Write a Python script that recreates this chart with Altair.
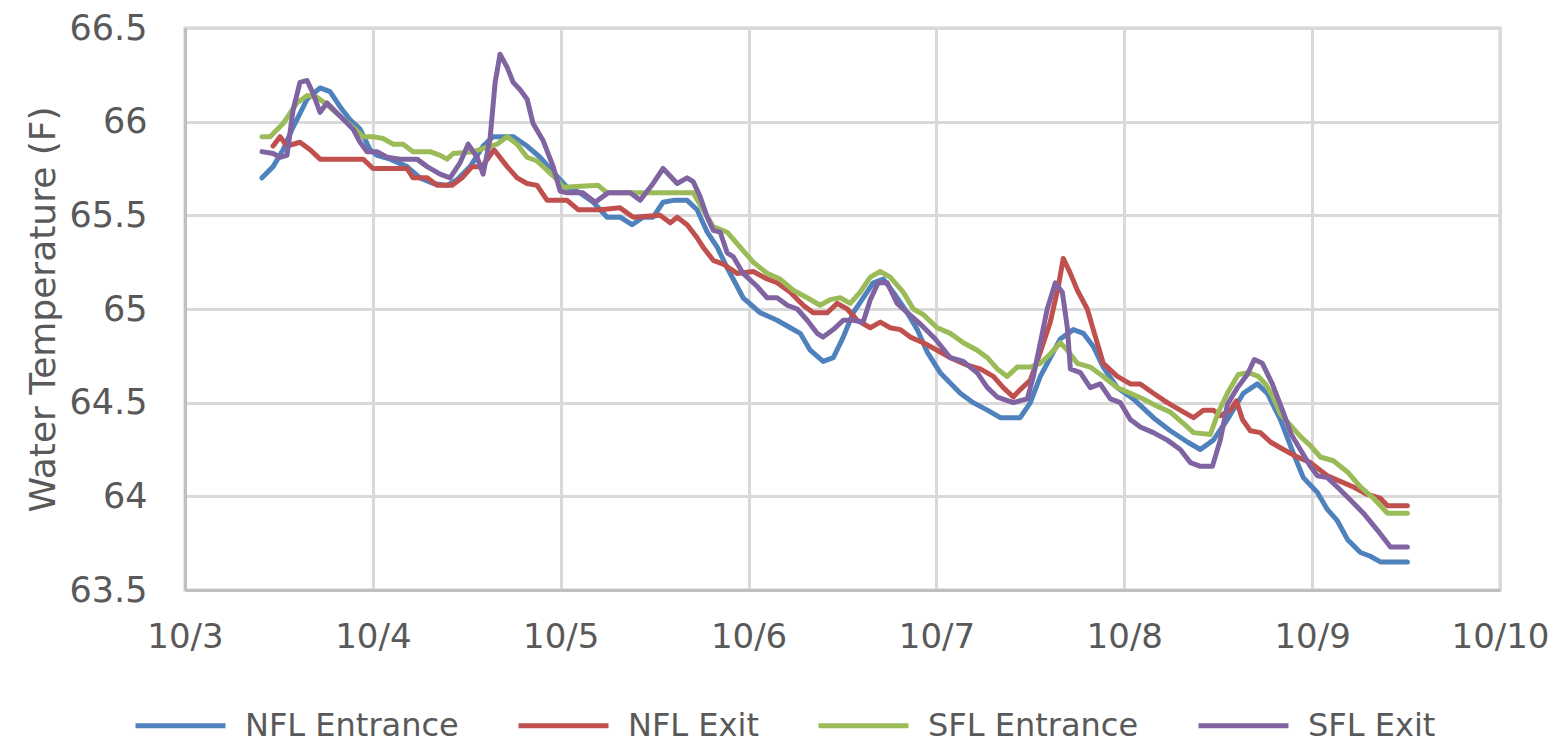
import altair as alt
import pandas as pd

SERIES = ["NFL Entrance", "NFL Exit", "SFL Entrance", "SFL Exit"]
COLORS = ["#4F81BD", "#C0504D", "#9BBB59", "#8064A2"]

NFL_ENT_DAY = [3.410, 3.469, 3.522, 3.575, 3.650, 3.719, 3.772, 3.825, 3.879, 3.932, 3.985, 4.022, 4.092, 4.182,
               4.251, 4.321, 4.395, 4.448, 4.518, 4.587, 4.640, 4.747, 4.821, 4.890, 4.960, 5.034, 5.103, 5.173,
               5.247, 5.316, 5.380, 5.439, 5.492, 5.545, 5.599, 5.673, 5.726, 5.780, 5.833, 5.886, 5.918, 5.971,
               6.062, 6.152, 6.222, 6.275, 6.328, 6.397, 6.451, 6.504, 6.557, 6.610, 6.664, 6.717, 6.770, 6.845,
               6.898, 6.951, 7.020, 7.127, 7.196, 7.271, 7.340, 7.446, 7.500, 7.553, 7.606, 7.659, 7.729, 7.782,
               7.835, 7.888, 7.963, 8.048, 8.155, 8.245, 8.336, 8.405, 8.474, 8.549, 8.634, 8.708, 8.762, 8.831,
               8.900, 8.953, 9.028, 9.081, 9.134, 9.188, 9.257, 9.310, 9.363, 9.507]
NFL_ENT_TEMP = [65.70, 65.76, 65.85, 65.97, 66.12, 66.18, 66.16, 66.08, 66.01, 65.96, 65.85, 65.82, 65.80, 65.76,
                65.70, 65.67, 65.66, 65.69, 65.76, 65.87, 65.92, 65.92, 65.87, 65.81, 65.73, 65.65, 65.62, 65.57,
                65.49, 65.49, 65.45, 65.49, 65.49, 65.57, 65.58, 65.58, 65.53, 65.41, 65.33, 65.22, 65.16, 65.06,
                64.98, 64.94, 64.90, 64.87, 64.78, 64.72, 64.74, 64.85, 64.98, 65.06, 65.14, 65.16, 65.09, 64.98,
                64.89, 64.77, 64.66, 64.55, 64.50, 64.46, 64.42, 64.42, 64.50, 64.64, 64.74, 64.84, 64.89, 64.87,
                64.80, 64.69, 64.58, 64.52, 64.42, 64.35, 64.29, 64.25, 64.30, 64.41, 64.55, 64.60, 64.55, 64.41,
                64.23, 64.10, 64.02, 63.93, 63.87, 63.77, 63.70, 63.68, 63.65, 63.65]

NFL_EXIT_DAY = [3.469, 3.506, 3.543, 3.612, 3.666, 3.719, 3.948, 4.001, 4.182, 4.214, 4.289, 4.342, 4.422, 4.475,
                4.528, 4.582, 4.645, 4.715, 4.768, 4.821, 4.874, 4.928, 5.034, 5.093, 5.210, 5.316, 5.386, 5.529,
                5.583, 5.620, 5.673, 5.726, 5.758, 5.812, 5.865, 5.939, 6.025, 6.099, 6.152, 6.222, 6.291, 6.344,
                6.419, 6.472, 6.525, 6.578, 6.648, 6.701, 6.754, 6.807, 6.861, 6.930, 7.004, 7.074, 7.164, 7.233,
                7.303, 7.356, 7.409, 7.446, 7.500, 7.553, 7.606, 7.649, 7.675, 7.713, 7.750, 7.803, 7.835, 7.888,
                7.963, 8.032, 8.085, 8.155, 8.229, 8.298, 8.368, 8.421, 8.474, 8.511, 8.565, 8.597, 8.629, 8.671,
                8.724, 8.778, 8.847, 8.921, 8.991, 9.081, 9.150, 9.220, 9.294, 9.363, 9.401, 9.507]
NFL_EXIT_TEMP = [65.87, 65.92, 65.87, 65.89, 65.85, 65.80, 65.80, 65.75, 65.75, 65.70, 65.70, 65.66, 65.66, 65.70,
                 65.76, 65.76, 65.85, 65.76, 65.70, 65.67, 65.66, 65.58, 65.58, 65.53, 65.53, 65.54, 65.49, 65.50,
                 65.46, 65.49, 65.45, 65.38, 65.33, 65.26, 65.24, 65.19, 65.20, 65.16, 65.14, 65.09, 65.02, 64.98,
                 64.98, 65.03, 65.00, 64.94, 64.90, 64.93, 64.90, 64.89, 64.85, 64.82, 64.78, 64.74, 64.70, 64.68,
                 64.64, 64.58, 64.53, 64.57, 64.62, 64.77, 64.93, 65.12, 65.27, 65.19, 65.10, 65.00, 64.89, 64.71,
                 64.64, 64.60, 64.60, 64.55, 64.50, 64.46, 64.42, 64.46, 64.46, 64.43, 64.46, 64.51, 64.41, 64.35,
                 64.34, 64.29, 64.25, 64.21, 64.18, 64.11, 64.08, 64.05, 64.01, 63.99, 63.95, 63.95]

SFL_ENT_DAY = [3.410, 3.453, 3.522, 3.596, 3.650, 3.703, 3.756, 3.825, 3.895, 3.948, 4.001, 4.054, 4.108, 4.161,
               4.214, 4.305, 4.358, 4.395, 4.427, 4.534, 4.598, 4.661, 4.715, 4.768, 4.821, 4.874, 4.928, 4.981,
               5.013, 5.199, 5.247, 5.705, 5.758, 5.812, 5.886, 5.955, 6.025, 6.099, 6.168, 6.238, 6.312, 6.381,
               6.435, 6.488, 6.541, 6.594, 6.648, 6.701, 6.754, 6.823, 6.877, 6.930, 7.004, 7.074, 7.143, 7.217,
               7.271, 7.324, 7.377, 7.430, 7.500, 7.553, 7.606, 7.659, 7.697, 7.750, 7.819, 7.888, 7.963, 8.032,
               8.101, 8.176, 8.245, 8.314, 8.368, 8.458, 8.501, 8.554, 8.607, 8.660, 8.714, 8.751, 8.788, 8.831,
               8.884, 8.937, 8.991, 9.044, 9.113, 9.188, 9.257, 9.326, 9.401, 9.507]
SFL_ENT_TEMP = [65.92, 65.92, 65.99, 66.10, 66.14, 66.13, 66.09, 66.03, 65.97, 65.92, 65.92, 65.91, 65.88, 65.88,
                65.84, 65.84, 65.82, 65.80, 65.83, 65.84, 65.86, 65.88, 65.92, 65.88, 65.81, 65.79, 65.74, 65.69,
                65.65, 65.66, 65.62, 65.62, 65.53, 65.44, 65.41, 65.33, 65.25, 65.19, 65.16, 65.10, 65.06, 65.02,
                65.05, 65.06, 65.03, 65.09, 65.17, 65.20, 65.17, 65.09, 65.00, 64.97, 64.90, 64.87, 64.82, 64.78,
                64.74, 64.68, 64.64, 64.69, 64.69, 64.71, 64.76, 64.82, 64.78, 64.71, 64.69, 64.64, 64.58, 64.55,
                64.52, 64.48, 64.45, 64.39, 64.34, 64.33, 64.45, 64.56, 64.65, 64.66, 64.64, 64.60, 64.54, 64.44,
                64.38, 64.32, 64.27, 64.21, 64.19, 64.13, 64.05, 63.99, 63.91, 63.91]

SFL_EXIT_DAY = [3.410, 3.469, 3.506, 3.543, 3.575, 3.612, 3.650, 3.682, 3.719, 3.756, 3.825, 3.895, 3.932, 3.969,
                4.022, 4.076, 4.145, 4.235, 4.289, 4.358, 4.411, 4.464, 4.507, 4.555, 4.587, 4.624, 4.651, 4.677,
                4.715, 4.747, 4.784, 4.821, 4.853, 4.906, 4.960, 4.997, 5.034, 5.119, 5.183, 5.252, 5.370, 5.423,
                5.492, 5.545, 5.620, 5.673, 5.705, 5.742, 5.780, 5.812, 5.849, 5.886, 5.918, 5.971, 6.046, 6.099,
                6.152, 6.206, 6.259, 6.312, 6.365, 6.397, 6.451, 6.504, 6.557, 6.610, 6.648, 6.690, 6.738, 6.791,
                6.845, 6.914, 6.994, 7.074, 7.143, 7.217, 7.271, 7.324, 7.409, 7.484, 7.516, 7.553, 7.590, 7.633,
                7.670, 7.697, 7.713, 7.766, 7.819, 7.872, 7.926, 7.979, 8.032, 8.085, 8.155, 8.229, 8.298, 8.352,
                8.405, 8.469, 8.511, 8.549, 8.602, 8.655, 8.692, 8.735, 8.788, 8.842, 8.889, 8.937, 8.991, 9.028,
                9.081, 9.134, 9.204, 9.273, 9.347, 9.417, 9.507]
SFL_EXIT_TEMP = [65.84, 65.83, 65.81, 65.82, 66.06, 66.21, 66.22, 66.15, 66.05, 66.10, 66.03, 65.96, 65.89, 65.84,
                 65.84, 65.81, 65.80, 65.80, 65.76, 65.72, 65.70, 65.78, 65.88, 65.81, 65.72, 65.91, 66.21, 66.36,
                 66.29, 66.21, 66.17, 66.12, 65.99, 65.90, 65.76, 65.63, 65.62, 65.62, 65.57, 65.62, 65.62, 65.58,
                 65.67, 65.75, 65.67, 65.70, 65.68, 65.60, 65.49, 65.42, 65.41, 65.30, 65.28, 65.19, 65.12, 65.06,
                 65.06, 65.02, 65.00, 64.94, 64.87, 64.85, 64.89, 64.94, 64.94, 64.93, 65.05, 65.14, 65.14, 65.03,
                 64.98, 64.92, 64.84, 64.74, 64.72, 64.66, 64.58, 64.53, 64.50, 64.52, 64.64, 64.82, 65.00, 65.14,
                 65.09, 64.90, 64.68, 64.66, 64.58, 64.60, 64.52, 64.50, 64.41, 64.37, 64.34, 64.30, 64.25, 64.18,
                 64.16, 64.16, 64.30, 64.49, 64.58, 64.65, 64.73, 64.71, 64.60, 64.46, 64.33, 64.25, 64.16, 64.11,
                 64.10, 64.05, 63.98, 63.91, 63.82, 63.73, 63.73]

X_TICKS = [3, 4, 5, 6, 7, 8, 9, 10]
Y_TICKS = [63.5, 64, 64.5, 65, 65.5, 66, 66.5]

frames = []
for name, d, t in zip(SERIES,
                      [NFL_ENT_DAY, NFL_EXIT_DAY, SFL_ENT_DAY, SFL_EXIT_DAY],
                      [NFL_ENT_TEMP, NFL_EXIT_TEMP, SFL_ENT_TEMP, SFL_EXIT_TEMP]):
    frames.append(pd.DataFrame({"series": name, "day": d, "temp": t}))
df = pd.concat(frames, ignore_index=True)

FONT = "DejaVu Sans"
TXT = "#595959"

chart = alt.Chart(df).mark_line(strokeWidth=5, strokeJoin="round", strokeCap="round").encode(
    x=alt.X("day:Q",
            scale=alt.Scale(domain=[3, 10], nice=False, zero=False),
            axis=alt.Axis(values=X_TICKS, labelExpr="'10/' + datum.value", title=None,
                          grid=True, ticks=False, labelPadding=30, labelFontSize=34,
                          labelFlush=False, labelOverlap=False,
                          labelFont=FONT, labelColor=TXT, domainColor="#BFBFBF", domainWidth=3,
                          gridColor="#D9D9D9", gridWidth=3)),
    y=alt.Y("temp:Q",
            scale=alt.Scale(domain=[63.5, 66.5], nice=False, zero=False),
            axis=alt.Axis(values=Y_TICKS, labelExpr="'' + datum.value", title="Water Temperature (F)",
                          grid=True, ticks=False, labelPadding=38, labelFontSize=35,
                          labelFlush=False, labelOverlap=False,
                          labelFont=FONT, labelColor=TXT, titleFont=FONT, titleFontSize=36,
                          titleFontWeight="normal", titleColor=TXT, titlePadding=7,
                          domainColor="#BFBFBF", domainWidth=3,
                          gridColor="#D9D9D9", gridWidth=3)),
    color=alt.Color("series:N",
                    scale=alt.Scale(domain=SERIES, range=COLORS),
                    sort=SERIES,
                    legend=alt.Legend(orient="none", legendX=-52, legendY=650, direction="horizontal",
                                      title=None, symbolType="stroke", symbolSize=8100,
                                      symbolStrokeWidth=5, labelFontSize=32, labelFont=FONT,
                                      labelColor=TXT, labelOffset=17, columnPadding=49,
                                      labelLimit=500)),
).properties(
    width=1315, height=562,
    autosize=alt.AutoSizeParams(type="none"),
    padding={"left": 177, "top": 20, "right": 55, "bottom": 154},
).configure_view(stroke="#D0D0D0", strokeWidth=3)

chart.save("out.html", embed_options={"renderer": "svg", "actions": False})
